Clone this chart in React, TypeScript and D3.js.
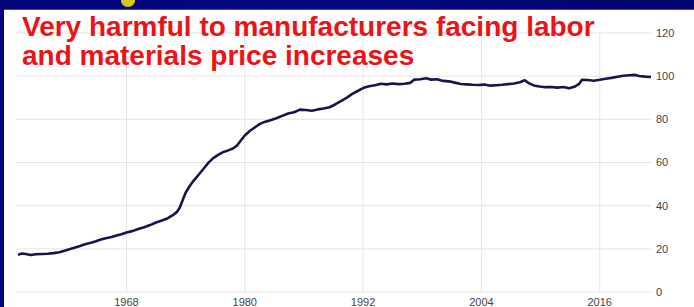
import React, { useEffect, useRef } from 'react'
import * as d3 from 'd3'

// index values (decimal year, level)
const years = [
  1957.0, 1957.4, 1957.8, 1958.3, 1958.8, 1959.4, 1960.0, 1960.6, 1961.2, 1961.8,
  1962.3, 1962.8, 1963.3, 1963.8, 1964.4, 1964.9, 1965.4, 1965.9, 1966.5, 1967.0,
  1967.5, 1968.0, 1968.6, 1969.2, 1969.8, 1970.4, 1971.0, 1971.6, 1972.2, 1972.7,
  1973.1, 1973.4, 1973.7, 1974.0, 1974.4, 1974.8, 1975.3, 1975.8, 1976.3, 1976.8,
  1977.3, 1977.8, 1978.3, 1978.8, 1979.2, 1979.6, 1980.0, 1980.5, 1981.0, 1981.5,
  1982.0, 1982.6, 1983.2, 1983.8, 1984.4, 1985.0, 1985.6, 1986.2, 1986.8, 1987.4,
  1988.0, 1988.6, 1989.2, 1989.8, 1990.4, 1990.9, 1991.4, 1992.0, 1992.6, 1993.2,
  1993.8, 1994.4, 1995.0, 1995.6, 1996.2, 1996.8, 1997.2, 1997.8, 1998.4, 1998.9,
  1999.5, 2000.1, 2000.7, 2001.3, 2001.9, 2002.5, 2003.1, 2003.7, 2004.3, 2004.9,
  2005.5, 2006.1, 2006.7, 2007.3, 2007.9, 2008.4, 2008.8, 2009.3, 2009.9, 2010.5,
  2011.1, 2011.7, 2012.3, 2012.9, 2013.5, 2013.9, 2014.2, 2014.8, 2015.4, 2016.0,
  2016.6, 2017.2, 2017.8, 2018.4, 2019.0, 2019.5, 2020.0, 2020.6, 2021.2,
]
const values = [
  17.2, 17.8, 17.6, 17.1, 17.5, 17.6, 17.7, 18.0, 18.4, 19.2,
  19.9, 20.6, 21.3, 22.1, 22.8, 23.5, 24.3, 24.9, 25.5, 26.2,
  26.8, 27.6, 28.2, 29.2, 30.0, 31.0, 32.2, 33.1, 34.2, 35.6,
  37.0, 39.0, 42.5, 46.0, 49.0, 51.5, 54.2, 57.0, 59.8, 62.0,
  63.5, 64.8, 65.6, 66.5, 67.8, 70.2, 72.5, 74.6, 76.2, 77.8,
  78.8, 79.6, 80.5, 81.6, 82.7, 83.3, 84.5, 84.3, 84.0, 84.6,
  85.0, 85.6, 87.0, 88.6, 90.2, 91.8, 93.0, 94.5, 95.3, 95.8,
  96.5, 96.2, 96.6, 96.3, 96.5, 96.9, 98.4, 98.6, 99.0, 98.4,
  98.6, 97.8, 97.6, 97.0, 96.4, 96.2, 96.0, 95.9, 96.1, 95.6,
  95.8, 96.0, 96.3, 96.6, 97.2, 98.1, 96.8, 95.7, 95.2, 94.9,
  95.0, 94.7, 95.0, 94.4, 95.2, 96.4, 98.3, 98.2, 97.9, 98.3,
  98.8, 99.2, 99.7, 100.2, 100.4, 100.6, 100.1, 99.8, 99.6,
]
const xTicks = [1968, 1980, 1992, 2004, 2016]
const yTicks = [0, 20, 40, 60, 80, 100, 120]
const titleLines = ['Very harmful to manufacturers facing labor', 'and materials price increases']

export default function App() {
  const svgRef = useRef<SVGSVGElement>(null)

  useEffect(() => {
    if (!svgRef.current) return
    const svg = d3.select(svgRef.current)
    svg.selectAll('*').remove()

    const width = 694
    const height = 307

    const x = d3.scaleLinear().domain([1956.8, 2021.4]).range([16, 653])
    const y = d3.scaleLinear().domain([0, 120]).range([292, 33])

    // slide background
    svg.append('rect').attr('width', width).attr('height', height).attr('fill', '#ffffff')
    const grad = svg.append('defs').append('linearGradient').attr('id', 'band')
      .attr('x1', 0).attr('x2', 1).attr('y1', 0).attr('y2', 0)
    grad.append('stop').attr('offset', '0%').attr('stop-color', '#03047a')
    grad.append('stop').attr('offset', '50%').attr('stop-color', '#06087e')
    grad.append('stop').attr('offset', '100%').attr('stop-color', '#02036c')
    svg.append('rect').attr('width', width).attr('height', 10).attr('fill', 'url(#band)')
    svg.append('rect').attr('y', 9).attr('width', width).attr('height', 1).attr('fill', '#4050a8')
    svg.append('rect').attr('width', 4).attr('height', height).attr('fill', '#03047a')
    svg.append('ellipse').attr('cx', 128).attr('cy', 1).attr('rx', 7).attr('ry', 6).attr('fill', '#d8c81e')

    // gridlines
    const grid = svg.append('g')
    grid.selectAll('line.h').data(yTicks).enter().append('line')
      .attr('x1', 16).attr('x2', 651)
      .attr('y1', d => y(d)).attr('y2', d => y(d))
      .attr('stroke', '#e4e4e4').attr('stroke-width', 1)
    grid.selectAll('line.v').data(xTicks).enter().append('line')
      .attr('x1', d => x(d)).attr('x2', d => x(d))
      .attr('y1', y(120)).attr('y2', y(0))
      .attr('stroke', '#e4e4e4').attr('stroke-width', 1)

    // axis labels
    svg.append('g').selectAll('text').data(yTicks).enter().append('text')
      .attr('x', 656).attr('y', d => y(d))
      .attr('dy', '0.35em')
      .style('font-family', '"Liberation Sans", Arial, sans-serif')
      .style('font-size', '11px')
      .style('fill', '#444')
      .text(d => d)
    svg.append('g').selectAll('text').data(xTicks).enter().append('text')
      .attr('x', d => x(d)).attr('y', 306)
      .attr('text-anchor', 'middle')
      .style('font-family', '"Liberation Sans", Arial, sans-serif')
      .style('font-size', '11px')
      .style('fill', '#444')
      .text(d => d)

    // series line
    const pts = years.map((yr, i) => [yr, values[i]] as [number, number])
    const line = d3.line<[number, number]>().x(d => x(d[0])).y(d => y(d[1]))
    svg.append('path')
      .attr('d', line(pts) as string)
      .attr('fill', 'none')
      .attr('stroke', '#16164a')
      .attr('stroke-width', 2.6)
      .attr('stroke-linejoin', 'round')

    // title overlay
    svg.append('g').selectAll('text').data(titleLines).enter().append('text')
      .attr('x', 22).attr('y', (_, i) => 36 + i * 29)
      .style('font-family', '"Liberation Sans", Arial, sans-serif')
      .style('font-size', '28px')
      .style('font-weight', 'bold')
      .style('fill', '#ec1317')
      .text(d => d)
  }, [])

  return (
    <svg ref={svgRef} width={694} height={307} style={{ position: 'absolute', left: 0, top: 0 }} />
  )
}
